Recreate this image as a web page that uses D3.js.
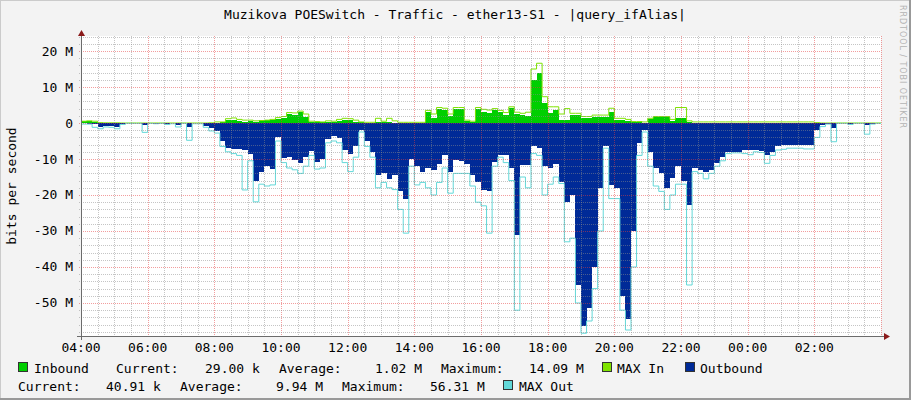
<!DOCTYPE html>
<html><head><meta charset="utf-8">
<script src="https://cdn.jsdelivr.net/npm/d3@7"></script>
<style>
body{margin:0;background:#f3f3f3}
svg text{font-family:"DejaVu Sans Mono",monospace;fill:#000}
</style>
</head><body><svg id="c" width="911" height="400"></svg>
<script>
// ---------- DATA (Mbit/s, 10-minute steps from 04:00) ----------
const title = "Muzikova POESwitch - Traffic - ether13-S1 - |query_ifAlias|";
const yLabel = "bits per second";
const startTime = new Date(2024, 0, 1, 4, 0);
const endTime = new Date(2024, 0, 2, 4, 0);
const stepMinutes = 10;

const inbound = [
0.5,0.5,0.4,0,0,0,0,0,0,0,
0,0,0,0,0,0,0,0,0,0,
0,0,0,0,0.1,0.2,0.8,0.8,0.6,0.4,
0.6,0.4,0.6,0.7,0.8,1.2,1.3,2.4,2.2,3.1,
1.6,0.3,0.2,0.2,0.2,0.3,0.5,0.8,0.7,0.3,
0.2,0.1,0.1,0.2,0.2,0.2,0.1,0.1,0.1,0.1,
0.1,0.1,3.0,1.5,4.0,3.5,2.0,4.0,4.0,0.5,
0.3,4.0,3.0,2.7,3.5,3.0,2.2,4.1,2.5,2.2,
2.0,12.0,14.0,5.5,2.7,3.5,0.8,0.8,2.2,2.2,
1.3,1.3,1.8,1.8,1.8,3.0,0.8,0.8,0.5,0.2,
0.2,0.1,1.0,1.6,1.6,1.6,0.5,1.5,1.3,0.3,
0.1,0.1,0.1,0.1,0.1,0.1,0.1,0.1,0.1,0.1,
0.1,0.1,0.1,0.1,0.1,0.1,0.1,0.1,0.1,0.1,
0.1,0.1,0,0,0,0,0,0,0,0,
0,0,0,0];

const maxIn = [
0.5,0.6,0.5,0.1,0.05,0.05,0.05,0,0,0,
0,0,0,0,0,0,0,0,0,0,
0,0,0,0.05,0.3,0.3,1.2,1.4,1.0,0.8,
0.8,0.6,0.7,0.8,1.0,1.5,1.8,2.9,2.8,3.3,
2.5,0.5,0.4,0.3,0.6,0.5,1.0,1.3,1.2,0.8,
0.3,0.2,0.2,1.3,0.5,1.3,0.6,0.2,0.2,0.2,
0.2,0.2,3.5,2.5,4.3,4.1,2.5,4.3,4.3,0.8,
0.5,4.3,3.8,3.6,4.0,3.5,2.9,4.5,3.0,2.7,
3.0,15.0,16.6,7.3,4.5,4.5,2.5,4.0,2.7,2.7,
1.8,1.8,2.2,2.2,2.2,4.1,1.3,1.3,1.0,0.4,
0.4,0.3,1.3,1.8,1.8,1.8,1.0,4.3,4.3,0.6,
0.3,0.3,0.3,0.3,0.3,0.3,0.3,0.3,0.3,0.3,
0.3,0.3,0.3,0.3,0.3,0.3,0.3,0.3,0.3,0.3,
0.3,0.3,0.1,0,0,0,0,0,0,0,
0,0,0,0];

const outbound = [
0.1,0.2,0.4,1.2,0.9,0.8,1.0,0.3,0,0,
0.1,0.6,0,0.2,0.1,0.4,0.1,0.5,0,1.1,
0.1,0.1,0.8,1.5,2.2,5.0,6.9,7.3,7.3,7.6,
8.5,16.0,13.5,12.0,12.7,4.0,9.8,9.5,10.3,11.2,
9.5,7.8,10.7,10.0,4.5,3.7,4.3,7.5,8.7,6.5,
2.0,5.0,8.0,14.5,14.0,15.5,14.5,19.0,21.0,10.0,
12.0,13.5,12.5,13.0,11.5,8.9,13.5,10.3,10.5,11.5,
14.5,16.5,18.5,19.0,10.7,8.9,9.0,12.6,31.0,11.7,
11.7,6.5,7.0,12.0,12.5,11.5,16.3,22.0,20.0,45.0,
56.3,51.5,40.0,18.0,6.5,17.2,18.0,48.0,54.5,30.0,
5.5,2.0,8.0,12.6,14.0,18.0,15.4,12.0,16.0,22.8,
12.6,13.0,13.5,13.0,11.2,9.5,8.0,8.0,8.0,7.5,
7.5,7.5,7.8,9.0,8.0,6.5,6.1,6.1,6.1,6.1,
6.1,6.1,2.0,0.6,0.2,1.5,0.1,0.1,0.3,0.1,
0.1,0.5,0.2,0.1];

const maxOut = [
0.3,0.3,1.2,1.6,1.1,1.2,1.6,0.4,0.1,0.1,
0.1,2.6,0.1,0.2,0.1,0.4,0.2,1.1,0.1,4.8,
0.2,0.2,1.2,2.2,2.8,6.5,8.0,8.5,9.0,18.6,
10.5,21.9,17.0,17.5,17.2,5.0,11.0,12.5,13.0,14.0,
12.0,9.0,12.8,12.5,5.5,5.0,5.5,11.0,13.5,9.5,
2.5,6.5,9.5,18.0,16.5,18.0,18.5,24.0,30.6,12.0,
17.2,16.5,18.0,20.0,16.5,12.5,19.5,14.0,14.0,14.0,
17.5,22.0,23.0,30.6,12.0,9.5,11.0,16.0,52.0,15.0,
18.0,8.5,9.0,20.0,17.0,15.0,16.8,33.0,32.0,50.0,
58.4,55.0,46.0,30.0,7.0,21.0,21.0,52.0,57.5,40.0,
9.0,2.5,12.0,17.5,19.0,24.0,20.0,17.0,17.0,45.0,
13.5,14.0,15.5,14.0,12.0,10.5,8.5,8.3,8.3,8.5,
8.8,8.0,8.2,11.2,9.0,7.5,7.3,7.0,7.0,7.0,
7.2,7.2,4.0,1.0,0.3,5.2,0.1,0.1,0.4,0.1,
0.1,3.1,0.3,0.1];

const yTickValues = [20,10,0,-10,-20,-30,-40,-50];
const yTickLabels = ["20 M","10 M","0","-10 M","-20 M","-30 M","-40 M","-50 M"];
const xTickLabels = ["04:00","06:00","08:00","10:00","12:00","14:00","16:00","18:00","20:00","22:00","00:00","02:00"];

const legendIn = {name:"Inbound", cur:"29.00 k", avg:"1.02 M", max:"14.09 M"};
const legendOut = {name:"Outbound", cur:"40.91 k", avg:"9.94 M", max:"56.31 M"};

const colIn = "#00CF00", colMaxIn = "#7FE300", colOut = "#002A97", colMaxOut = "#63D8D8";

// ---------- DRAW ----------
const svg = d3.select("#c");
const L = 81, R = 881, T = 36, B = 336;
const x = d3.scaleTime().domain([startTime, endTime]).range([L, R]);
const y = d3.scaleLinear().domain([-59.17, 24.17]).range([B, T]);

// frame
svg.append("rect").attr("x",0).attr("y",0).attr("width",911).attr("height",400).attr("fill","#f3f3f3");
svg.append("line").attr("x1",0).attr("y1",0.5).attr("x2",911).attr("y2",0.5).attr("stroke","#cbcbcb");
svg.append("line").attr("x1",0.5).attr("y1",0).attr("x2",0.5).attr("y2",400).attr("stroke","#cbcbcb");
svg.append("rect").attr("x",909).attr("y",0).attr("width",2).attr("height",400).attr("fill","#999");
svg.append("rect").attr("x",0).attr("y",398).attr("width",911).attr("height",2).attr("fill","#999");

svg.append("rect").attr("x",L).attr("y",T).attr("width",R-L).attr("height",B-T).attr("fill","#fff");

const toPts = arr => {
  const pts = arr.map((v,i)=>({t:d3.timeMinute.offset(startTime, i*stepMinutes), v}));
  pts.push({t:endTime, v:arr[arr.length-1]});
  return pts;
};

const areaPos = d3.area().curve(d3.curveStepAfter).x(d=>x(d.t)).y0(y(0)).y1(d=>y(d.v));
const areaNeg = d3.area().curve(d3.curveStepAfter).x(d=>x(d.t)).y0(y(0)).y1(d=>y(-d.v));
const linePos = d3.line().curve(d3.curveStepAfter).x(d=>x(d.t)).y(d=>y(d.v));
const lineNeg = d3.line().curve(d3.curveStepAfter).x(d=>x(d.t)).y(d=>y(-d.v));

svg.append("path").datum(toPts(inbound)).attr("d",areaPos).attr("fill",colIn).attr("shape-rendering","crispEdges");
svg.append("path").datum(toPts(maxIn)).attr("d",linePos).attr("fill","none").attr("stroke",colMaxIn).attr("stroke-width",1);
svg.append("path").datum(toPts(outbound)).attr("d",areaNeg).attr("fill",colOut).attr("shape-rendering","crispEdges");
svg.append("path").datum(toPts(maxOut)).attr("d",lineNeg).attr("fill","none").attr("stroke",colMaxOut).attr("stroke-width",1);

// grid (drawn over data, like rrdtool)
const g = svg.append("g").attr("shape-rendering","crispEdges");
const minorX = x.ticks(d3.timeMinute.every(30));
const majorX = x.ticks(d3.timeHour.every(2));
minorX.forEach(t=>{
  const isMaj = t.getHours()%2===0 && t.getMinutes()===0;
  const xx = Math.round(x(t))+0.5;
  if (xx < L+1) return;
  g.append("line").attr("x1",xx).attr("x2",xx).attr("y1",T).attr("y2",B+2)
   .attr("stroke", isMaj ? "rgba(230,60,60,0.5)" : "rgba(140,140,140,0.5)")
   .attr("stroke-dasharray","1,1");
});
d3.range(-58, 24.5, 2).forEach(v=>{
  const isMaj = v%10===0;
  const yy = Math.round(y(v))+0.5;
  g.append("line").attr("x1",L-2).attr("x2",R).attr("y1",yy).attr("y2",yy)
   .attr("stroke", isMaj ? "rgba(230,60,60,0.5)" : "rgba(140,140,140,0.5)")
   .attr("stroke-dasharray","1,1");
});

// axes
svg.append("line").attr("x1",77).attr("x2",885).attr("y1",B+0.5).attr("y2",B+0.5).attr("stroke","#6b6b6b").attr("shape-rendering","crispEdges");
svg.append("line").attr("x1",L+0.5).attr("x2",L+0.5).attr("y1",B+4).attr("y2",33).attr("stroke","#6b6b6b").attr("shape-rendering","crispEdges");
svg.append("path").attr("d",`M884,${B-3}L890,${B+0.5}L884,${B+4}Z`).attr("fill","#8b1a1a");
svg.append("path").attr("d",`M${L-3},36L${L+0.5},30L${L+4},36Z`).attr("fill","#8b1a1a");

// y labels
yTickValues.forEach((v,i)=>{
  svg.append("text").attr("x",73).attr("y",y(v)+4.5).attr("text-anchor","end")
    .attr("font-size",13).text(yTickLabels[i]);
});
// x labels
majorX.forEach((t,i)=>{
  if (i >= xTickLabels.length) return;
  svg.append("text").attr("x",x(t)).attr("y",351.5).attr("text-anchor","middle")
    .attr("font-size",13).text(xTickLabels[i]);
});

// title
svg.append("text").attr("x",455).attr("y",18.5).attr("text-anchor","middle").attr("font-size",13).text(title);
// y axis title
svg.append("text").attr("transform","translate(16,186) rotate(-90)").attr("text-anchor","middle").attr("font-size",13).text(yLabel);
// watermark
svg.append("text").attr("transform","translate(900,5) rotate(90)").attr("font-size",8)
  .attr("textLength",123).attr("lengthAdjust","spacing")
  .style("fill","#b4b4b4").style("font-family","'DejaVu Sans', sans-serif").text("RRDTOOL / TOBI OETIKER");

// legend
const box = (bx,by,c)=>svg.append("rect").attr("x",bx+0.5).attr("y",by+0.5).attr("width",9).attr("height",9).attr("fill",c).attr("stroke","#333").attr("shape-rendering","crispEdges");
const txt = (tx,ty,s)=>svg.append("text").attr("x",tx).attr("y",ty).attr("font-size",13).attr("xml:space","preserve").text(s);
const l1 = 372.5, l2 = 390.5;
box(18,362,colIn); txt(34,l1,legendIn.name);
txt(116,l1,"Current:"); txt(205,l1,legendIn.cur);
txt(279,l1,"Average:"); txt(375,l1,legendIn.avg);
txt(441,l1,"Maximum:"); txt(529,l1,legendIn.max);
box(602,362,colMaxIn); txt(617,l1,"MAX In");
box(685,362,colOut); txt(700,l1,legendOut.name);
txt(18,l2,"Current:"); txt(106,l2,legendOut.cur);
txt(180,l2,"Average:"); txt(276,l2,legendOut.avg);
txt(342,l2,"Maximum:"); txt(430,l2,legendOut.max);
box(503,380,colMaxOut); txt(519,l2,"MAX Out");
</script></body></html>
